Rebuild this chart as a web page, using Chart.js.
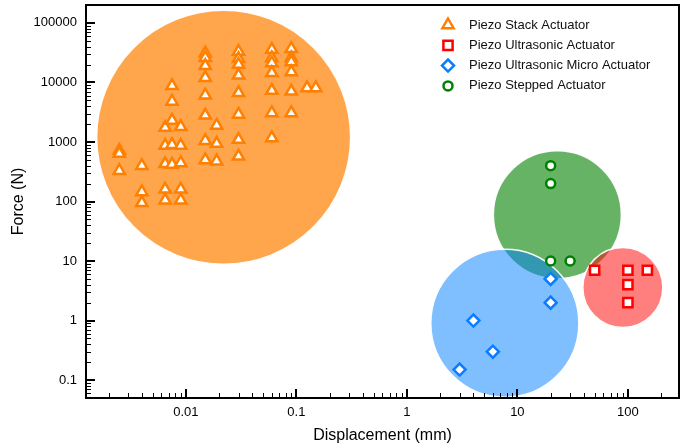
<!DOCTYPE html>
<html>
<head>
<meta charset="utf-8">
<script src="https://cdn.jsdelivr.net/npm/chart.js@4.4.0/dist/chart.umd.min.js"></script>
<style>
  html, body { margin: 0; padding: 0; background: #fff; }
  #wrap { width: 680px; height: 447px; }
</style>
</head>
<body>
<div id="wrap"><canvas id="forceChart" width="680" height="447"></canvas></div>
<script>
// values: displacement (mm) vs force (N)
const seriesNames = ['Piezo Stack Actuator', 'Piezo Ultrasonic Actuator', 'Piezo Ultrasonic Micro Actuator', 'Piezo Stepped Actuator'];

const stackDisp = [
    0.0025, 0.0025, 0.0025,
    0.004, 0.004, 0.004,
    0.0065, 0.0065, 0.0065, 0.0065, 0.0065,
    0.0075, 0.0075, 0.0075, 0.0075, 0.0075,
    0.009, 0.009, 0.009, 0.009, 0.009,
    0.015, 0.015, 0.015, 0.015, 0.015, 0.015, 0.015, 0.015,
    0.019, 0.019, 0.019,
    0.03, 0.03, 0.03, 0.03, 0.03, 0.03, 0.03, 0.03,
    0.06, 0.06, 0.06, 0.06, 0.06, 0.06, 0.06,
    0.09, 0.09, 0.09, 0.09, 0.09, 0.09,
    0.125, 0.15
];
const stackForce = [
    720, 640, 330,
    400, 145, 95,
    1750, 870, 430, 160, 105,
    8800, 4800, 2300, 900, 420,
    1800, 870, 445, 160, 105,
    31000, 26000, 19000, 12000, 6100, 2800, 1050, 500,
    1900, 940, 475,
    33000, 25000, 20000, 13200, 6700, 2900, 1100, 575,
    35600, 25800, 21300, 14500, 7300, 3080, 1170,
    36900, 25800, 22100, 15000, 7100, 3080,
    8100, 8100
];

const ultraDisp = [50, 100, 150, 100, 100];
const ultraForce = [7, 7, 7, 4, 2];

const microDisp = [3, 4, 6, 20, 20];
const microForce = [0.15, 1, 0.3, 2, 5];

const steppedDisp = [20, 20, 20, 30];
const steppedForce = [400, 200, 10, 10];

// shaded zones behind each family: centre and bubble radius
const zoneDisp = [0.022, 23, 90, 7.7];
const zoneForce = [1200, 60, 3.6, 0.9];
const zoneRadius = [127, 64, 40, 74];

const xTickLabels = ['0.01', '0.1', '1', '10', '100'];
const yTickLabels = ['0.1', '1', '10', '100', '1000', '10000', '100000'];

const X_MIN = 0.00125, X_MAX = 290;
const Y_MIN = 0.05, Y_MAX = 200000;

const FONT = '"Liberation Sans", Arial, Helvetica, sans-serif';

function toPoints(xs, ys) {
    return xs.map((x, i) => ({ x: x, y: ys[i] }));
}

// decade ticks from the label list, minor ticks 2..9 in between
function logTicks(min, max, labels) {
    const ticks = [];
    const majors = labels.map(Number);
    const lo = Math.floor(Math.log10(min)), hi = Math.ceil(Math.log10(max));
    for (let e = lo; e <= hi; e++) {
        for (let d = 1; d <= 9; d++) {
            const v = d * Math.pow(10, e);
            if (v < min || v > max) continue;
            const isMajor = d === 1 && majors.some(m => Math.abs(m - v) / m < 1e-9);
            ticks.push({ value: v, major: isMajor });
        }
    }
    return ticks;
}

function labelFor(value, labels) {
    const hit = labels.find(l => Math.abs(Number(l) - value) / Number(l) < 1e-9);
    return hit === undefined ? '' : hit;
}

const frameAndTicks = {
    id: 'frameAndTicks',
    afterDraw(chart) {
        const { ctx, chartArea: ca } = chart;
        ctx.save();
        ctx.strokeStyle = '#000';
        ctx.lineWidth = 2;
        ctx.strokeRect(ca.left, ca.top, ca.right - ca.left, ca.bottom - ca.top);

        chart.scales.x.ticks.forEach(t => {
            const px = Math.round(chart.scales.x.getPixelForValue(t.value)) + (t.major ? 0 : 0.5);
            if (px <= ca.left + 1 || px >= ca.right - 1) return;
            ctx.lineWidth = t.major ? 2 : 1;
            ctx.beginPath();
            ctx.moveTo(px, ca.bottom);
            ctx.lineTo(px, ca.bottom - (t.major ? 9 : 5));
            ctx.stroke();
        });
        chart.scales.y.ticks.forEach(t => {
            const py = Math.round(chart.scales.y.getPixelForValue(t.value)) + (t.major ? 0 : 0.5);
            if (py <= ca.top + 1 || py >= ca.bottom - 1) return;
            ctx.lineWidth = t.major ? 2 : 1;
            ctx.beginPath();
            ctx.moveTo(ca.left, py);
            ctx.lineTo(ca.left + (t.major ? 9 : 5), py);
            ctx.stroke();
        });
        ctx.restore();
    }
};

// legend sits inside the plot, top right
const insideLegend = {
    id: 'insideLegend',
    afterDraw(chart) {
        const ctx = chart.ctx;
        const items = chart.data.datasets.filter(d => d.type !== 'bubble');
        ctx.save();
        items.forEach((ds, i) => {
            const y = 25 + i * 20.3;
            ctx.strokeStyle = ds.borderColor;
            ctx.fillStyle = '#fff';
            ctx.lineWidth = ds.borderWidth;
            Chart.helpers.drawPoint(ctx, {
                pointStyle: ds.pointStyle,
                radius: ds.pointRadius,
                borderWidth: ds.borderWidth,
                rotation: 0
            }, 448, y);
            ctx.fillStyle = '#111';
            ctx.font = '13px ' + FONT;
            ctx.textBaseline = 'middle';
            ctx.textAlign = 'left';
            ctx.fillText(ds.label, 469, y);
        });
        ctx.restore();
    }
};

const zoneColors = ['rgba(255,128,0,0.7)', 'rgba(0,128,0,0.6)', 'rgba(255,0,0,0.5)', 'rgba(0,128,255,0.5)'];
const zoneOrder = [4, 3, 2, 1];

const zoneSets = zoneDisp.map((x, i) => ({
    type: 'bubble',
    label: 'zone ' + i,
    data: [{ x: x, y: zoneForce[i], r: zoneRadius[i] }],
    backgroundColor: zoneColors[i],
    borderColor: 'rgba(255,255,255,0.95)',
    borderWidth: 1.5,
    order: zoneOrder[i]
}));

function markerSet(label, xs, ys, style, color, radius) {
    return {
        type: 'scatter',
        label: label,
        data: toPoints(xs, ys),
        pointStyle: style,
        pointRadius: radius,
        borderColor: color,
        backgroundColor: '#fff',
        borderWidth: 2.5,
        order: 0
    };
}

const ctx = document.getElementById('forceChart').getContext('2d');
new Chart(ctx, {
    type: 'scatter',
    data: {
        datasets: [
            markerSet(seriesNames[0], stackDisp, stackForce, 'triangle', '#ff7f00', 6.5),
            markerSet(seriesNames[1], ultraDisp, ultraForce, 'rect', '#ff0000', 6.5),
            markerSet(seriesNames[2], microDisp, microForce, 'rectRot', '#0a7cff', 6),
            markerSet(seriesNames[3], steppedDisp, steppedForce, 'circle', '#008000', 4.5),
            ...zoneSets
        ]
    },
    options: {
        responsive: false,
        animation: false,
        events: [],
        devicePixelRatio: 1,
        layout: { autoPadding: false, padding: { left: 0, top: 5, right: 1, bottom: 0 } },
        plugins: {
            legend: { display: false },
            tooltip: { enabled: false }
        },
        scales: {
            x: {
                type: 'logarithmic',
                position: 'bottom',
                min: X_MIN,
                max: X_MAX,
                grid: { display: false, drawTicks: false },
                border: { display: false },
                afterBuildTicks: s => { s.ticks = logTicks(X_MIN, X_MAX, xTickLabels); },
                afterFit: s => { s.height = 49; s.paddingLeft = 0; s.paddingRight = 0; },
                ticks: {
                    autoSkip: false,
                    maxRotation: 0,
                    padding: 7,
                    color: '#000',
                    font: { family: FONT, size: 13 },
                    callback: v => labelFor(v, xTickLabels)
                },
                title: {
                    display: true,
                    text: 'Displacement (mm)',
                    color: '#000',
                    font: { family: FONT, size: 16 },
                    padding: { top: 0, bottom: 2 }
                }
            },
            y: {
                type: 'logarithmic',
                min: Y_MIN,
                max: Y_MAX,
                grid: { display: false, drawTicks: false },
                border: { display: false },
                afterBuildTicks: s => { s.ticks = logTicks(Y_MIN, Y_MAX, yTickLabels); },
                afterFit: s => { s.width = 86; s.paddingTop = 0; s.paddingBottom = 0; },
                ticks: {
                    autoSkip: false,
                    padding: 9,
                    color: '#000',
                    font: { family: FONT, size: 13 },
                    callback: v => labelFor(v, yTickLabels)
                },
                title: {
                    display: true,
                    text: 'Force (N)',
                    color: '#000',
                    font: { family: FONT, size: 16 },
                    padding: { top: 9, bottom: 0 }
                }
            }
        }
    },
    plugins: [frameAndTicks, insideLegend]
});
</script>
</body>
</html>
